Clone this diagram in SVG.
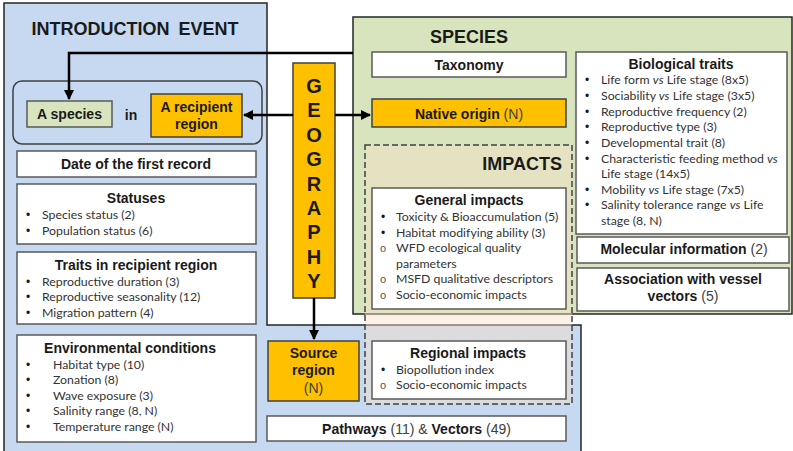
<svg xmlns="http://www.w3.org/2000/svg" width="793" height="451" viewBox="0 0 793 451">
<defs>
<marker id="ah" viewBox="0 0 10 10" refX="9" refY="5" markerWidth="4" markerHeight="4" orient="auto-start-reverse" markerUnits="strokeWidth">
<path d="M0,0 L10,5 L0,10 z" fill="#000"/>
</marker>
<style>
.blue{fill:#c6d9f1;stroke:#262626;stroke-width:1.5}
.green{fill:#d7e4bd;stroke:#262626;stroke-width:1.5}
.box{fill:#fff;stroke:#595959;stroke-width:1.5}
.orange{fill:#ffc000;stroke:#404040;stroke-width:1.5}
.gbox{fill:#d7e4bd;stroke:#595959;stroke-width:1.5}
.imp{fill:#f6e0c8;fill-opacity:0.45;stroke:#404040;stroke-width:1.5;stroke-dasharray:6 3}
.b{font-family:"Liberation Sans",Arial,sans-serif;font-weight:bold;fill:#1a1a1a;font-size:14px}
.h{font-family:"Liberation Sans",Arial,sans-serif;font-weight:bold;fill:#1a1a1a;font-size:18px}
.g{font-family:"Liberation Sans",Arial,sans-serif;font-weight:bold;fill:#1a1a1a;font-size:20px}
.r{font-weight:normal;fill:#404040}
.i{font-family:Lato,"Liberation Sans",sans-serif;font-size:12.3px;fill:#333}
.bu{font-family:"Liberation Sans",Arial,sans-serif;font-size:12px;fill:#1a1a1a}
.ho{font-family:"Liberation Sans",Arial,sans-serif;font-size:11px;fill:#555}
.conn{stroke:#000;stroke-width:2.5;fill:none}
</style>
</defs>

<g id="introduction-event-panel">
<polygon class="blue" points="4,3 267,3 267,325 581,325 581,453 4,453"/>
<text class="h" x="135" y="35" text-anchor="middle" word-spacing="4">INTRODUCTION EVENT</text>
</g>

<g id="species-panel">
<rect class="green" x="353" y="17" width="439" height="297"/>
<text class="h" x="469" y="43" text-anchor="middle">SPECIES</text>
</g>

<g id="species-in-region">
<rect x="13" y="81" width="249" height="63" rx="9" ry="9" fill="#c6d9f1" stroke="#404040" stroke-width="1.5"/>
<text class="b" x="131" y="120" text-anchor="middle">in</text>
</g>

<g id="a-species">
<rect class="gbox" x="27" y="101" width="85" height="26"/>
<text class="b" x="69.5" y="119" text-anchor="middle">A species</text>
</g>

<g id="a-recipient-region">
<rect class="orange" x="151" y="94" width="91" height="43"/>
<text class="b" x="196.5" y="112" text-anchor="middle">A recipient</text>
<text class="b" x="196.5" y="129" text-anchor="middle">region</text>
</g>

<g id="date-first-record">
<rect class="box" x="17" y="151" width="239" height="26"/>
<text class="b" x="136" y="168.5" text-anchor="middle">Date of the first record</text>
</g>

<g id="statuses">
<rect class="box" x="17" y="184" width="239" height="60"/>
<text class="b" x="136" y="203" text-anchor="middle">Statuses</text>
<text class="bu" x="26" y="219">•</text><text class="i" x="42" y="219">Species status (2)</text>
<text class="bu" x="26" y="235">•</text><text class="i" x="42" y="235">Population status (6)</text>
</g>

<g id="traits-recipient">
<rect class="box" x="17" y="252" width="239" height="72"/>
<text class="b" x="136" y="270" text-anchor="middle">Traits in recipient region</text>
<text class="bu" x="26" y="286">•</text><text class="i" x="42" y="286">Reproductive duration (3)</text>
<text class="bu" x="26" y="301">•</text><text class="i" x="42" y="301">Reproductive seasonality (12)</text>
<text class="bu" x="26" y="317">•</text><text class="i" x="42" y="317">Migration pattern (4)</text>
</g>

<g id="environmental-conditions">
<rect class="box" x="17" y="335" width="239" height="107"/>
<text class="b" x="130" y="353" text-anchor="middle">Environmental conditions</text>
<text class="bu" x="26" y="369">•</text><text class="i" x="53" y="369">Habitat type (10)</text>
<text class="bu" x="26" y="384">•</text><text class="i" x="53" y="384">Zonation (8)</text>
<text class="bu" x="26" y="400">•</text><text class="i" x="53" y="400">Wave exposure (3)</text>
<text class="bu" x="26" y="415">•</text><text class="i" x="53" y="415">Salinity range (8, N)</text>
<text class="bu" x="26" y="431">•</text><text class="i" x="53" y="431">Temperature range (N)</text>
</g>

<g id="geography">
<rect class="orange" x="293" y="63" width="42" height="235"/>
<text class="g" x="314" y="93" text-anchor="middle">G</text>
<text class="g" x="314" y="117.4" text-anchor="middle">E</text>
<text class="g" x="314" y="141.8" text-anchor="middle">O</text>
<text class="g" x="314" y="166.2" text-anchor="middle">G</text>
<text class="g" x="314" y="190.6" text-anchor="middle">R</text>
<text class="g" x="314" y="215" text-anchor="middle">A</text>
<text class="g" x="314" y="239.4" text-anchor="middle">P</text>
<text class="g" x="314" y="263.8" text-anchor="middle">H</text>
<text class="g" x="314" y="288.2" text-anchor="middle">Y</text>
</g>

<g id="source-region">
<rect class="orange" x="268" y="341" width="91" height="60"/>
<text class="b" x="313.5" y="358" text-anchor="middle">Source</text>
<text class="b" x="313.5" y="375" text-anchor="middle">region</text>
<text class="b r" x="313.5" y="393" text-anchor="middle">(N)</text>
</g>

<g id="pathways-vectors">
<rect class="box" x="267" y="416" width="299" height="25"/>
<text class="b" x="416.5" y="433.5" text-anchor="middle">Pathways <tspan class="r">(11) &amp; </tspan>Vectors <tspan class="r">(49)</tspan></text>
</g>

<g id="taxonomy">
<rect class="box" x="372" y="52" width="194" height="25"/>
<text class="b" x="469" y="69.5" text-anchor="middle">Taxonomy</text>
</g>

<g id="native-origin">
<rect class="orange" x="372" y="99" width="194" height="28"/>
<text class="b" x="469" y="119" text-anchor="middle" font-size="15">Native origin<tspan class="r"> (N)</tspan></text>
</g>

<g id="biological-traits">
<rect class="box" x="576" y="52" width="211" height="182"/>
<text class="b" x="681" y="69" text-anchor="middle">Biological traits</text>
<text class="bu" x="585" y="84">•</text><text class="i" x="601" y="84">Life form <tspan font-style="italic">vs</tspan> Life stage (8x5)</text>
<text class="bu" x="585" y="100">•</text><text class="i" x="601" y="100">Sociability <tspan font-style="italic">vs</tspan> Life stage (3x5)</text>
<text class="bu" x="585" y="116">•</text><text class="i" x="601" y="116">Reproductive frequency (2)</text>
<text class="bu" x="585" y="131">•</text><text class="i" x="601" y="131">Reproductive type (3)</text>
<text class="bu" x="585" y="147">•</text><text class="i" x="601" y="147">Developmental trait (8)</text>
<text class="bu" x="585" y="163">•</text><text class="i" x="601" y="163">Characteristic feeding method <tspan font-style="italic">vs</tspan></text>
<text class="i" x="601" y="178">Life stage (14x5)</text>
<text class="bu" x="585" y="194">•</text><text class="i" x="601" y="194">Mobility <tspan font-style="italic">vs</tspan> Life stage (7x5)</text>
<text class="bu" x="585" y="209">•</text><text class="i" x="601" y="209">Salinity tolerance range <tspan font-style="italic">vs</tspan> Life</text>
<text class="i" x="601" y="225">stage (8, N)</text>
</g>

<g id="molecular-information">
<rect class="box" x="577" y="237" width="212" height="26"/>
<text class="b" x="684" y="254" text-anchor="middle">Molecular information<tspan class="r"> (2)</tspan></text>
</g>

<g id="association-vessel">
<rect class="box" x="577" y="268" width="212" height="43"/>
<text class="b" x="683" y="284" text-anchor="middle">Association with vessel</text>
<text class="b" x="683" y="301" text-anchor="middle">vectors<tspan class="r"> (5)</tspan></text>
</g>

<g id="impacts">
<rect class="imp" x="365" y="145" width="207" height="259"/>
<text class="h" x="562" y="170" text-anchor="end">IMPACTS</text>
</g>

<g id="general-impacts">
<rect class="box" x="372" y="188" width="194" height="121"/>
<text class="b" x="469" y="205" text-anchor="middle">General impacts</text>
<text class="bu" x="381" y="221">•</text><text class="i" x="396" y="221">Toxicity &amp; Bioaccumulation (5)</text>
<text class="bu" x="381" y="237">•</text><text class="i" x="396" y="237">Habitat modifying ability (3)</text>
<text class="ho" x="380" y="252">o</text><text class="i" x="396" y="252">WFD ecological quality</text>
<text class="i" x="396" y="268">parameters</text>
<text class="ho" x="380" y="283">o</text><text class="i" x="396" y="283">MSFD qualitative descriptors</text>
<text class="ho" x="380" y="299">o</text><text class="i" x="396" y="299">Socio-economic impacts</text>
</g>

<g id="regional-impacts">
<rect class="box" x="372" y="341" width="194" height="58"/>
<text class="b" x="468" y="358" text-anchor="middle">Regional impacts</text>
<text class="bu" x="381" y="374">•</text><text class="i" x="396" y="374">Biopollution index</text>
<text class="ho" x="380" y="389">o</text><text class="i" x="396" y="389">Socio-economic impacts</text>
</g>

<g id="connectors">
<polyline class="conn" points="353,53 69,53 69,99" marker-end="url(#ah)"/>
<line class="conn" x1="293" y1="115" x2="244" y2="115" marker-end="url(#ah)"/>
<line class="conn" x1="335" y1="115" x2="370" y2="115" marker-end="url(#ah)"/>
<line class="conn" x1="314" y1="298" x2="314" y2="339" marker-end="url(#ah)"/>
</g>
</svg>
